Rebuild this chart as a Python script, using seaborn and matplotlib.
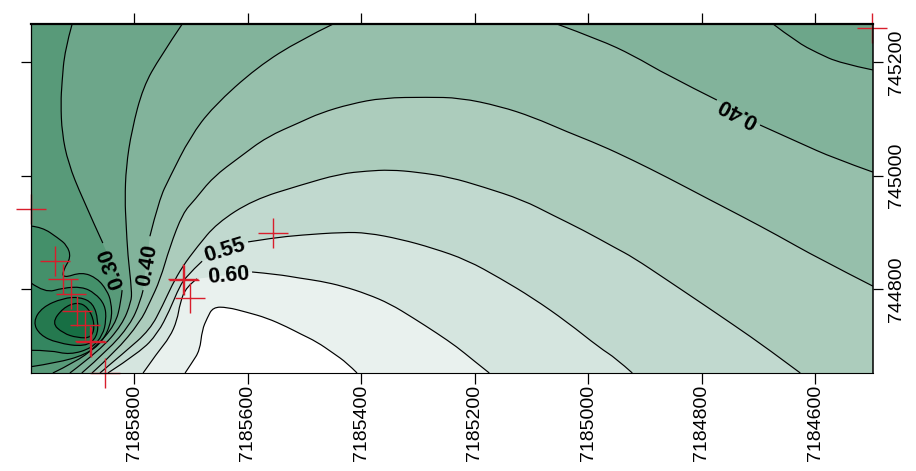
import numpy as np
import matplotlib
matplotlib.use("Agg")
import matplotlib.pyplot as plt
from matplotlib.path import Path
from matplotlib.patches import PathPatch
import seaborn as sns

# map origin, the traced vertices below are metres from here
east0 = 7185000
north0 = 744000

# contour vertices, (level: easting, northing)
e_010 = [945, 925, 900, 881, 869, 874, 900, 925]
n_010 = [740, 767, 777, 768, 740, 714, 714, 722]
e_015 = [978, 962, 925, 895, 872, 863, 865, 886, 936, 966]
n_015 = [742, 768, 784, 786, 775, 745, 715, 698, 705, 719]
e_020 = [982, 957, 925, 892, 869, 851, 849, 855, 874, 913, 948, 982]
n_020 = [811, 793, 802, 804, 793, 772, 745, 719, 696, 684, 692, 692]
e_025 = [982, 962, 934, 918, 911, 925, 925, 892, 865, 848, 840, 839, 855, 886, 936, 982]
n_025 = [911, 909, 890, 877, 856, 833, 819, 830, 819, 798, 777, 745, 707, 684, 670, 663]
e_030 = [943, 904, 869, 833, 823, 821, 855, 892, 916, 927, 929, 927, 922, 909]
n_030 = [652, 671, 696, 737, 777, 798, 881, 962, 1022, 1075, 1128, 1163, 1221, 1267]
e_035 = [913, 860, 821, 805, 804, 811, 814, 816, 814, 804, 784, 754, 715, -326, -368, -404, -444, -502]
n_035 = [652, 692, 737, 777, 798, 860, 916, 957, 1015, 1080, 1156, 1209, 1267, 1267, 1235, 1216, 1198, 1186]
e_040 = [892, 846, 807, 789, 784, 772, 756, 737, 701, 661, 583, 507, 449, 55, -21, -79, -139, -227, -303, -374, -432, -502]
n_040 = [652, 692, 737, 777, 798, 893, 957, 997, 1068, 1121, 1191, 1239, 1267, 1267, 1239, 1212, 1177, 1133, 1089, 1057, 1031, 1006]
e_045 = [874, 833, 789, 772, 754, 737, 714, 693, 661, 613, 566, 507, 472, 419, 361, 284, 226, 155, 97, 37, -21, -79, -139, -215, -273, -333, -404, -502]
n_045 = [652, 689, 742, 777, 816, 874, 934, 957, 997, 1033, 1068, 1094, 1110, 1126, 1137, 1138, 1137, 1122, 1103, 1077, 1054, 1027, 997, 957, 927, 895, 855, 805]
e_050 = [860, 816, 772, 749, 733, 715, 689, 654, 590, 507, 437, 389, 349, 301, 243, 185, 115, 62, 9, -49, -79, -139, -197, -256, -315, -374]
n_050 = [652, 689, 728, 772, 807, 839, 874, 916, 957, 983, 1003, 1008, 1010, 1006, 997, 980, 957, 930, 904, 872, 856, 816, 777, 737, 696, 652]
e_055 = [846, 789, 758, 737, 724, 710, 680, 599, 555, 507, 432, 389, 331, 273, 213, 155, 97, 37, -21, -49, -78]
n_055 = [652, 689, 722, 763, 795, 821, 849, 883, 890, 895, 900, 899, 888, 872, 851, 819, 784, 742, 696, 678, 652]
e_060 = [784, 758, 737, 724, 719, 708, 689, 592, 548, 507, 472, 432, 389, 349, 308, 266, 231, 203, 174]
n_060 = [652, 689, 715, 745, 775, 804, 818, 830, 826, 819, 814, 805, 791, 774, 749, 722, 698, 675, 652]
e_065 = [710, 698, 684, 680, 671, 661, 636, 601, 566, 530, 507, 478, 449, 425, 407]
n_065 = [652, 670, 692, 728, 749, 768, 768, 759, 749, 733, 721, 707, 687, 670, 652]

# sample points (red crosses)
cross_e = [982, 939, 925, 911, 900, 886, 878, 876, 851, 714, 712, 701, 555, -500]
cross_n = [941, 849, 818, 791, 761, 737, 708, 707, 652, 818, 816, 784, 899, 1260]

# tick values and contour labels
x_ticks = [7185800, 7185600, 7185400, 7185200, 7185000, 7184800, 7184600]
y_ticks = [745200, 745000, 744800]
label_text = ["0.30", "0.40", "0.55", "0.60", "0.40"]
label_e = [839, 777, 640, 634, -264]
label_n = [837, 841, 867, 823, 1112]
label_rot = [110, 80, 17, 5, 152]

band_colors = {
    "below": "#348660", "0.10": "#176F44", "0.15": "#25794F", "0.20": "#44906A",
    "0.25": "#589A79", "0.30": "#6DA68A", "0.35": "#82B39B", "0.40": "#96BFAB",
    "0.45": "#ACCCBC", "0.50": "#C1D9CF", "0.55": "#D5E5DF", "0.60": "#E9F1EE",
    "0.65": "#FFFFFF",
}

sns.set_theme(style="white")
plt.rcParams["font.family"] = ["Liberation Sans", "DejaVu Sans"]

fig = plt.figure(figsize=(9.16, 4.71), dpi=100)
ax = fig.add_axes([30.5 / 916, 98 / 471, 842.5 / 916, 349 / 471])
ax.set_facecolor(band_colors["below"])

x_left, x_right = east0 + 982.4, east0 - 502.1
y_bottom, y_top = north0 + 652, north0 + 1267
BL, BR, TR, TL = (x_left, y_bottom), (x_right, y_bottom), (x_right, y_top), (x_left, y_top)


def curve(es, ns, breaks=(), closed=False, joined=False):
    # quadratic curves with the read vertices as control points, so the lines stay round
    pts = np.column_stack([np.array(es, float) + east0, np.array(ns, float) + north0])
    verts, codes = [], []
    if closed:
        mids = (pts + np.roll(pts, -1, axis=0)) / 2
        verts.append(mids[-1])
        codes.append(Path.MOVETO)
        for p, m in zip(pts, mids):
            verts += [p, m]
            codes += [Path.CURVE3, Path.CURVE3]
        return verts, codes
    cuts = [0] + list(breaks) + [len(pts)]
    for a, b in zip(cuts[:-1], cuts[1:]):
        seg = pts[a:b]
        verts.append(seg[0])
        codes.append(Path.LINETO if joined and a > 0 else Path.MOVETO)
        for i in range(1, len(seg) - 1):
            end = (seg[i] + seg[i + 1]) / 2 if i < len(seg) - 2 else seg[i + 1]
            verts += [seg[i], end]
            codes += [Path.CURVE3, Path.CURVE3]
        if len(seg) == 2:
            verts.append(seg[1])
            codes.append(Path.LINETO)
    return verts, codes


def band(es, ns, level, corners=(), breaks=(), closed=False):
    verts, codes = curve(es, ns, breaks, closed, joined=True)
    for c in corners:
        verts.append(c)
        codes.append(Path.LINETO)
    verts.append(verts[0])
    codes.append(Path.CLOSEPOLY)
    ax.add_patch(PathPatch(Path(verts, codes), facecolor=band_colors[level], edgecolor="none", lw=0))


def contour(es, ns, breaks=(), closed=False):
    verts, codes = curve(es, ns, breaks, closed)
    ax.add_patch(PathPatch(Path(verts, codes), facecolor="none", edgecolor="black", lw=0.85, zorder=3))


# fill from low to high, each band sits on top of the last one
band(e_020, n_020, "0.20", [BL, BR, TR, TL])
band(e_015, n_015, "0.15", closed=True)
band(e_010, n_010, "0.10", closed=True)
band(e_025, n_025, "0.25", [BL, BR, TR, TL])
band(e_030, n_030, "0.30", [TR, BR], breaks=[6])
band(e_035, n_035, "0.35", [BR], breaks=[13])
band(e_040, n_040, "0.40", [BR], breaks=[5, 13, 18])
band(e_045, n_045, "0.45", [BR])
band(e_050, n_050, "0.50")
band(e_055, n_055, "0.55", breaks=[7])
band(e_060, n_060, "0.60", breaks=[7])
band(e_065, n_065, "0.65")

# contour lines, breaks are the gaps for labels and the stretch off the top edge
contour(e_010, n_010, closed=True)
contour(e_015, n_015, closed=True)
contour(e_020, n_020)
contour(e_025, n_025)
contour(e_030, n_030, breaks=[6])
contour(e_035, n_035, breaks=[13])
contour(e_040, n_040, breaks=[5, 13, 18])
contour(e_045, n_045)
contour(e_050, n_050)
contour(e_055, n_055, breaks=[7])
contour(e_060, n_060, breaks=[7])
contour(e_065, n_065)

sns.scatterplot(x=np.array(cross_e) + east0, y=np.array(cross_n) + north0, marker="+", s=460,
                color="#D81E2C", linewidth=1.0, clip_on=False, zorder=5, ax=ax, legend=False)

for txt, e, n, rot in zip(label_text, label_e, label_n, label_rot):
    ax.text(east0 + e, north0 + n, txt, rotation=rot, rotation_mode="anchor", ha="center", va="center",
            fontsize=15.5, fontweight="bold", color="black", zorder=4)

ax.set_xlim(x_left, x_right)
ax.set_ylim(y_bottom, y_top)
ax.set_xlabel("")
ax.set_ylabel("")

ax.set_xticks(x_ticks)
ax.set_xticklabels([str(v) for v in x_ticks], rotation=90)
ax.set_yticks(y_ticks)
ax.set_yticklabels([str(v) for v in y_ticks], rotation=90, va="center")
ax.tick_params(axis="x", top=True, bottom=True, direction="out", length=7.9, width=0.9,
               labelsize=14, pad=0.5, color="black", labelcolor="black")
ax.tick_params(axis="y", left=True, right=True, labelleft=False, labelright=True, direction="out",
               length=7.2, width=0.9, labelsize=14, pad=3.5, color="black", labelcolor="black")

for side, lw in zip(["top", "right", "left", "bottom"], [1.6, 1.1, 0.9, 0.8]):
    ax.spines[side].set_visible(True)
    ax.spines[side].set_color("black")
    ax.spines[side].set_linewidth(lw)
    ax.spines[side].set_zorder(6)

fig.savefig("out.png", dpi=100)
